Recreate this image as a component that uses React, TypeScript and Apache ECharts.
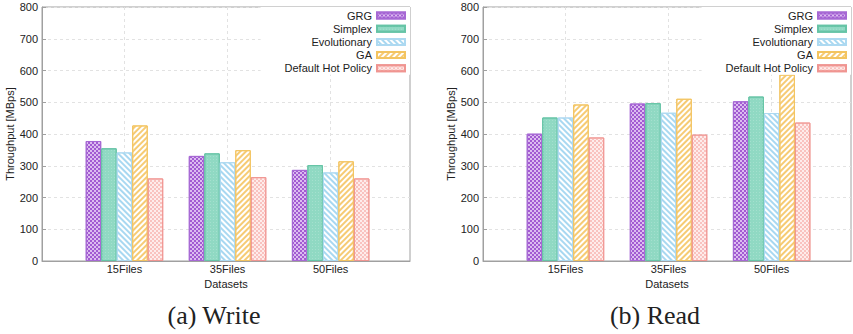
import React, { useEffect, useRef } from "react";
import * as echarts from "echarts";

const categories = ["15Files", "35Files", "50Files"];
const seriesNames = ["GRG", "Simplex", "Evolutionary", "GA", "Default Hot Policy"];
const yTicks = [0, 100, 200, 300, 400, 500, 600, 700, 800];

const writeGRG = [378, 331, 287];
const writeSimplex = [355, 339, 302];
const writeEvolutionary = [342, 311, 279];
const writeGA = [427, 349, 314];
const writeDefault = [260, 264, 260];

const readGRG = [401, 496, 503];
const readSimplex = [452, 497, 518];
const readEvolutionary = [452, 467, 466];
const readGA = [493, 511, 587];
const readDefault = [389, 398, 436];

const writeData = [writeGRG, writeSimplex, writeEvolutionary, writeGA, writeDefault];
const readData = [readGRG, readSimplex, readEvolutionary, readGA, readDefault];

const FONT = "Liberation Sans";

const styles: any[] = [
  {
    color: "#dcbcf0",
    borderColor: "#a669d4",
    decal: {
      symbol: "rect",
      symbolSize: 1,
      color: "#a25bd2",
      dashArrayX: [[2, 2], [0, 2, 2, 0]],
      dashArrayY: [2, 0],
    },
  },
  {
    color: "#90d9c3",
    borderColor: "#66c4a6",
    decal: {
      symbol: "rect",
      symbolSize: 1,
      color: "rgba(255,255,255,0.18)",
      dashArrayX: [1, 2],
      dashArrayY: [1, 2],
    },
  },
  {
    color: "#ffffff",
    borderColor: "#add9f1",
    decal: {
      symbol: "rect",
      symbolSize: 1,
      color: "#a8d8f1",
      dashArrayX: [1, 0],
      dashArrayY: [1.5, 2],
      rotation: Math.PI / 4,
    },
  },
  {
    color: "#ffffff",
    borderColor: "#f3c460",
    decal: {
      symbol: "rect",
      symbolSize: 1,
      color: "#f6cb74",
      dashArrayX: [1, 0],
      dashArrayY: [1.5, 2],
      rotation: -Math.PI / 4,
    },
  },
  {
    color: "#feeceb",
    borderColor: "#f09591",
    decal: {
      symbol: "rect",
      symbolSize: 1,
      color: "#f9c2bf",
      dashArrayX: [[1.5, 1.5], [0, 1.5, 1.5, 0]],
      dashArrayY: [1.5, 0],
    },
  },
];

const X_MIN = -0.8;
const X_MAX = 2.77;

function makeAxes(gridIndex: number) {
  const xAxis = {
    type: "value",
    gridIndex,
    min: X_MIN,
    max: X_MAX,
    name: "Datasets",
    nameLocation: "middle",
    nameGap: 12,
    nameTextStyle: { fontFamily: FONT, fontSize: 11, color: "#222" },
    axisLine: { show: true, onZero: false, lineStyle: { color: "#a0a0a0" } },
    axisTick: { show: true, inside: true, length: 4, customValues: [0, 1, 2], lineStyle: { color: "#a0a0a0" } },
    axisLabel: {
      customValues: [0, 1, 2],
      formatter: (v: number) => categories[Math.round(v)] ?? "",
      fontFamily: FONT,
      fontSize: 11,
      color: "#222",
      margin: 2,
    },
    splitLine: { show: true, lineStyle: { color: "#e2e2e2", type: [3, 3] } },
  };
  const yAxis = {
    type: "value",
    gridIndex,
    min: yTicks[0],
    max: yTicks[yTicks.length - 1],
    interval: 100,
    name: "Throughput [MBps]",
    nameLocation: "middle",
    nameGap: 27,
    nameTextStyle: { fontFamily: FONT, fontSize: 11, color: "#222" },
    axisLine: { show: true, onZero: false, lineStyle: { color: "#a0a0a0" } },
    axisTick: { show: true, inside: true, length: 4, lineStyle: { color: "#a0a0a0" } },
    axisLabel: { fontFamily: FONT, fontSize: 11, color: "#222", margin: 4 },
    splitLine: { show: true, lineStyle: { color: "#e2e2e2", type: [3, 3] } },
  };
  return { xAxis, yAxis };
}

function makeSeries(data: number[][], idx: number) {
  return seriesNames.map((name, i) => ({
    type: "bar",
    name,
    xAxisIndex: idx,
    yAxisIndex: idx,
    barWidth: 15.5,
    barGap: "0%",
    itemStyle: { ...styles[i], borderWidth: 1 },
    data: data[i].map((v, k) => [k, v]),
  }));
}

function makeLegend(right: number) {
  return {
    orient: "vertical",
    align: "right",
    right,
    top: 7,
    padding: [2, 4, 0, 24],
    backgroundColor: "#ffffff",
    icon: "rect",
    itemWidth: 28,
    itemHeight: 6,
    itemGap: 0.2,
    data: seriesNames,
    selectedMode: false,
    textStyle: { fontFamily: FONT, fontSize: 11, color: "#222", lineHeight: 13 },
  };
}

export default function App() {
  const ref = useRef<HTMLDivElement>(null);
  useEffect(() => {
    if (!ref.current) return;
    const chart = echarts.init(ref.current, null, { renderer: "svg" });
    const a0 = makeAxes(0);
    const a1 = makeAxes(1);
    chart.setOption({
      animation: false,
      backgroundColor: "#ffffff",
      grid: [
        { left: 42, top: 7, width: 368, height: 254, show: true, borderColor: "#a0a0a0", borderWidth: 1, backgroundColor: "transparent" },
        { left: 483, top: 7, width: 368, height: 254, show: true, borderColor: "#a0a0a0", borderWidth: 1, backgroundColor: "transparent" },
      ],
      xAxis: [a0.xAxis, a1.xAxis],
      yAxis: [a0.yAxis, a1.yAxis],
      legend: [makeLegend(853 - 410), makeLegend(853 - 851)],
      series: [...makeSeries(writeData, 0), ...makeSeries(readData, 1)],
      graphic: [
        {
          type: "text",
          x: 214,
          y: 315,
          style: { text: "(a) Write", font: '26px "Liberation Serif"', fill: "#222", align: "center", verticalAlign: "middle" },
        },
        {
          type: "text",
          x: 655,
          y: 315,
          style: { text: "(b) Read", font: '26px "Liberation Serif"', fill: "#222", align: "center", verticalAlign: "middle" },
        },
      ],
    });
    return () => chart.dispose();
  }, []);
  return (
    <div
      ref={ref}
      style={{ position: "absolute", left: 0, top: 0, width: 853, height: 334 }}
    />
  );
}
